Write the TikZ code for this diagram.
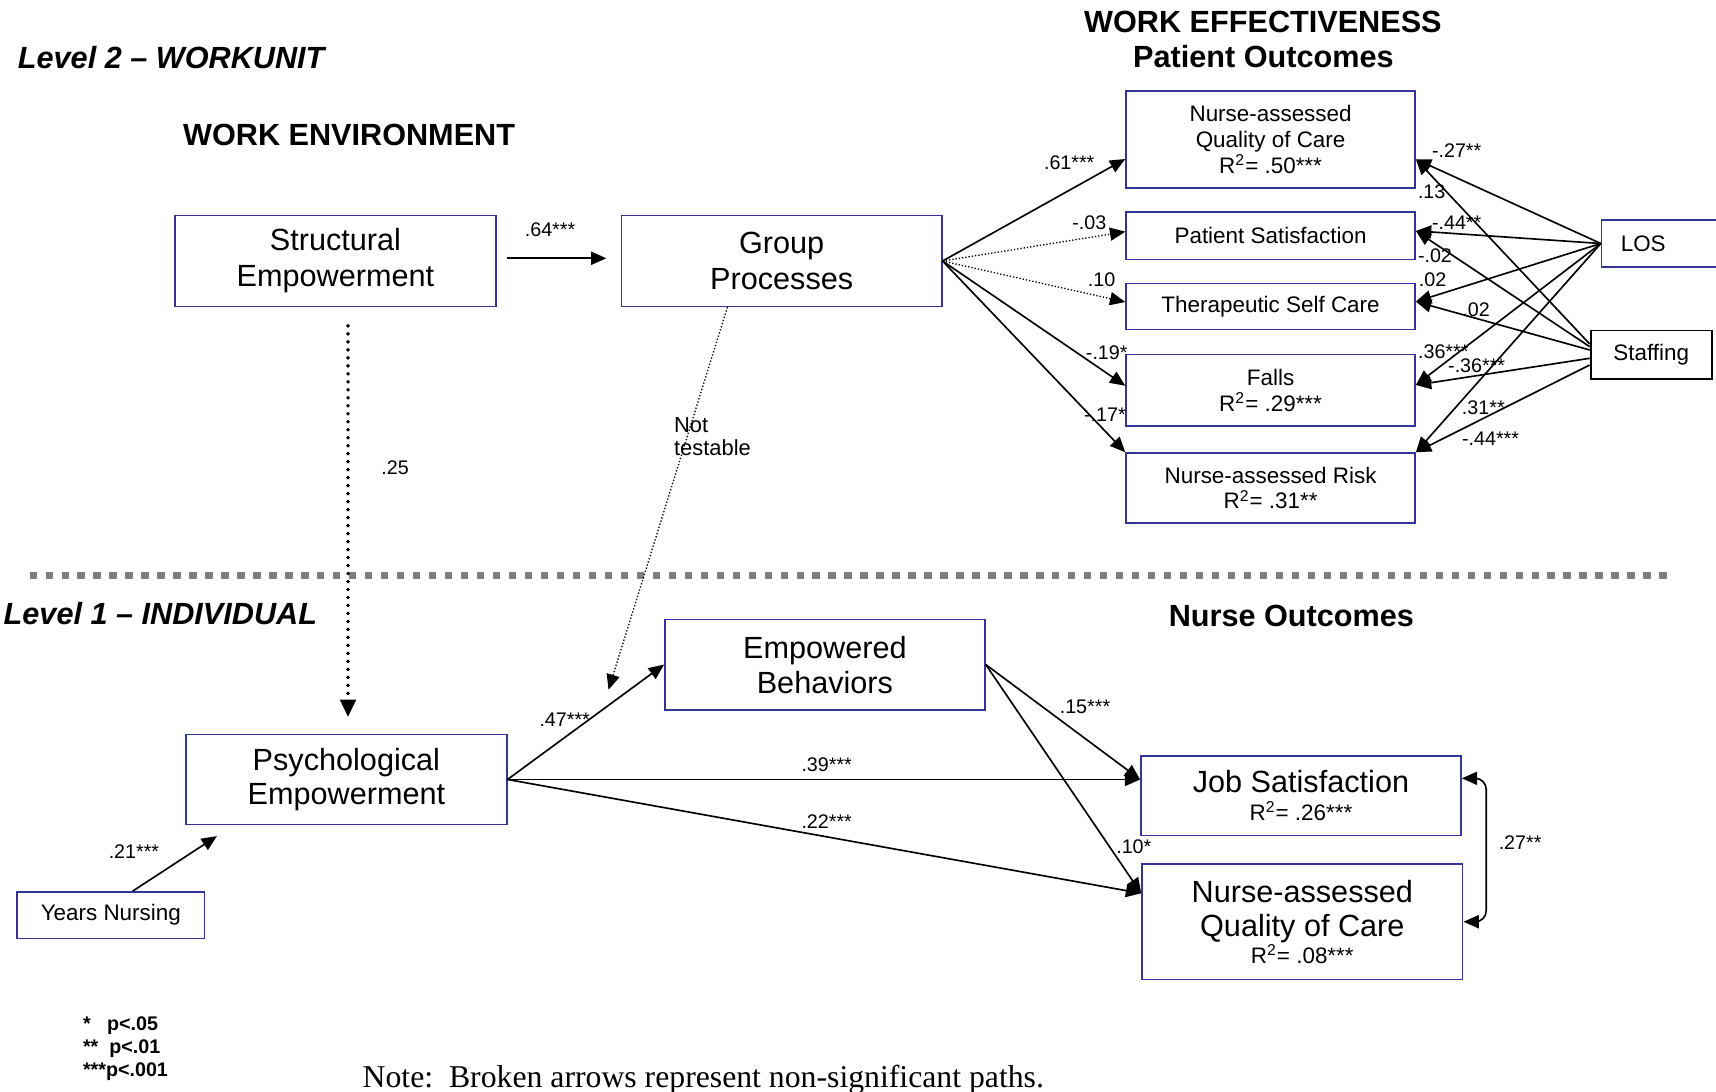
\documentclass[tikz,border=0pt]{standalone}
\usepackage{fontspec}
\setmainfont{Liberation Sans}
\newfontfamily\notefont{Liberation Serif}
\usetikzlibrary{arrows.meta}
\newcommand\szA{\fontsize{14}{16.5}\selectfont}
\newcommand\szB{\fontsize{10.25}{11.75}\selectfont}
\newcommand\szC{\fontsize{9}{10.5}\selectfont}
\newcommand\szN{\fontsize{14.5}{17}\selectfont}
\definecolor{boxblue}{RGB}{51,51,153}
\definecolor{sepgray}{RGB}{128,128,128}
\begin{document}
\begin{tikzpicture}[x=0.5pt,y=-0.5pt,
  box/.style={draw=boxblue,line width=0.75pt,inner sep=0pt,align=center},
  bigbox/.style={box,font=\szA,minimum width=146.5pt,minimum height=41.5pt},
  outbox/.style={box,font=\szB,minimum width=132pt},
  arr/.style={line width=0.75pt,-{Triangle[length=7pt,width=6pt]}},
  dblarr/.style={line width=0.75pt,{Triangle[length=7pt,width=6pt]}-{Triangle[length=7pt,width=6pt]}},
  dotarr/.style={line width=0.6pt,dash pattern=on 0.6pt off 0.9pt,-{Triangle[length=7pt,width=6pt]}},
  bigdot/.style={line width=1.8pt,line cap=round,dash pattern=on 0pt off 3.65pt,-{Triangle[length=8pt,width=7pt]}},
  sepline/.style={draw=sepgray,line width=3.3pt,dash pattern=on 3.35pt off 3.95pt},
  coef/.style={font=\szC,inner sep=0pt},
  title/.style={font=\szA\bfseries,inner sep=0pt},
  leveltitle/.style={font=\szA\bfseries\itshape,inner sep=0pt,anchor=west},
]
\useasboundingbox (0,0) rectangle (1568,997);

% titles
\node[leveltitle] (lvl2) at (16,53) {Level 2 – WORKUNIT};
\node[title] (wenv) at (319,123.5) {WORK ENVIRONMENT};
\node[title] (weff) at (1154,20) {WORK EFFECTIVENESS};
\node[title] (pout) at (1154.5,52) {Patient Outcomes};
\node[leveltitle] (lvl1) at (3,561) {Level 1 – INDIVIDUAL};
\node[title] (nout) at (1180,563) {Nurse Outcomes};

% separator
\draw[sepline] (27,526) -- (1527,526);

% level 2 boxes
\node[bigbox] (se) at (306.5,238.5) {Structural\\Empowerment};
\node[bigbox,minimum width=146.25pt] (gp) at (714.25,238.5) {Group\\Processes};
\node[outbox,minimum height=44.5pt] (nqc1) at (1161,127.5) {Nurse-assessed\\Quality of Care\\R\textsuperscript{2}= .50***};
\node[outbox,minimum height=21.5pt] (ps) at (1161,215.5) {Patient Satisfaction};
\node[outbox,minimum height=21pt] (tsc) at (1161,280) {Therapeutic Self Care};
\node[outbox,minimum height=32.5pt] (falls) at (1161,356.5) {Falls\\R\textsuperscript{2}= .29***};
\node[outbox,minimum height=32pt] (nar) at (1161,446) {Nurse-assessed Risk\\R\textsuperscript{2}= .31**};
\node[box,font=\szB,text width=38.25pt,inner xsep=8.75pt,align=left,minimum height=21.5pt] (los) at (1519.25,222.5) {LOS};
\node[box,draw=black,line width=0.9pt,font=\szB,minimum width=55.25pt,minimum height=22pt] (staff) at (1508.75,324) {Staffing};

% level 1 boxes
\node[bigbox,minimum width=146.25pt,minimum height=41.25pt] (eb) at (753.75,607.25) {Empowered\\[-0.5pt]Behaviors};
\node[bigbox,minimum height=41.25pt] (pe) at (316.5,712.25) {Psychological\\[-1pt]Empowerment};
\node[box,font=\szB,minimum width=85.75pt,minimum height=21.25pt] (yn) at (101.25,836.25) {Years Nursing};
\node[box,font=\szB,minimum width=146.25pt,minimum height=36.5pt] (js) at (1188.75,727) {{\szA Job Satisfaction}\\[1pt]R\textsuperscript{2}= .26***};
\node[box,font=\szA,minimum width=146.5pt,minimum height=52.75pt] (nqc2) at (1190,842.25) {Nurse-assessed\\[-1pt]Quality of Care\\[-4.3pt]{\szB R\textsuperscript{2}= .08***}};

% level 2 arrows
\draw[arr] ([xshift=4.6pt,yshift=1.25pt]se.east) -- ([xshift=-6.6pt,yshift=1.25pt]gp.west);
\draw[arr] (gp.east) -- ([yshift=-8.9pt]nqc1.west);
\draw[dotarr] (gp.east) -- ([yshift=1.9pt]ps.west);
\draw[dotarr] (gp.east) -- ([yshift=2pt]tsc.west);
\draw[arr] (gp.east) -- ([yshift=2pt]falls.west);
\draw[arr] (gp.east) -- (nar.north west);

\draw[arr] (los.west) -- ([yshift=-9pt]nqc1.east);
\draw[arr] (los.west) -- ([yshift=2.25pt]ps.east);
\draw[arr] (los.west) -- ([yshift=2.2pt]tsc.east);
\draw[arr] (los.west) -- ([yshift=2.35pt]falls.east);
\draw[arr] (los.west) -- (nar.north east);
\draw[arr] ([yshift=4.85pt]staff.west) -- ([yshift=-9pt]nqc1.east);
\draw[arr] ([yshift=3.6pt]staff.west) -- ([yshift=2.25pt]ps.east);
\draw[arr] ([yshift=2.1pt]staff.west) -- ([yshift=2.2pt]tsc.east);
\draw[arr] ([yshift=-1.7pt]staff.west) -- ([yshift=2.35pt]falls.east);
\draw[arr] ([yshift=-4.75pt]staff.west) -- (nar.north east);

% cross-level
\draw[bigdot] ([xshift=5.75pt,yshift=-8.5pt]se.south) -- ([xshift=0.75pt,yshift=7.5pt]pe.north);
\draw[dotarr] ([xshift=-24.8pt]gp.south) -- ([xshift=-25.35pt,yshift=-11.5pt]eb.west);

% level 1 arrows
\draw[arr] ([xshift=10pt]yn.north) -- ([xshift=14.5pt,yshift=-4.85pt]pe.south west);
\draw[arr] (pe.east) -- (eb.west);
\draw[arr] (pe.east) -- (pe.east -| js.west);
\draw[arr] (pe.east) -- ([yshift=13pt]nqc2.west);
\draw[arr] (eb.east) -- ([yshift=7.4pt]js.west);
\draw[arr] (eb.east) -- ([yshift=13pt]nqc2.west);
\coordinate (cvmid) at (1358,776);
\draw[dblarr,rounded corners=5pt] ([yshift=7.9pt]js.east) -| (cvmid) |- (nqc2.east);

% coefficients
\node[coef] (c64) at (502.6,210.2) {.64***};
\node[coef] (c25) at (361,427) {.25};
\node[font=\fontsize{10}{10.65}\selectfont,align=left,anchor=west,inner sep=0pt] (nt) at (615.6,399) {Not\\testable};
\node[coef] (c61) at (977,149) {.61***};
\node[coef] (c03) at (995.3,203.5) {-.03};
\node[coef] (c10) at (1006.6,255.8) {.10};
\node[coef] (c19) at (1011.3,322.3) {-.19*};
\node[coef] (c17) at (1009.7,378.6) {-.17*};
\node[coef] (r27) at (1331,137.7) {-.27**};
\node[coef] (r13) at (1308.2,175.1) {.13};
\node[coef] (r44a) at (1331,203.5) {-.44**};
\node[coef] (r02a) at (1311.2,233.9) {-.02};
\node[coef] (r02b) at (1309.1,255.2) {.02};
\node[coef] (r02c) at (1348.7,282.6) {.02};
\node[coef] (r36a) at (1318.8,321.3) {.36***};
\node[coef] (r36b) at (1349.3,334.4) {-.36***};
\node[coef] (r31) at (1355.4,372.2) {.31**};
\node[coef] (r44b) at (1362,400.5) {-.44***};
\node[coef] (c21) at (122.4,777.8) {.21***};
\node[coef] (c47) at (516,657.2) {.47***};
\node[coef] (c39) at (755.4,699) {.39***};
\node[coef] (c22) at (755.4,750.8) {.22***};
\node[coef] (c15) at (991.4,645.7) {.15***};
\node[coef] (c10b) at (1036,773.6) {.10*};
\node[coef] (c27) at (1389,770) {.27**};

% legend and note
\node[font=\szC\bfseries,align=left,anchor=north west,inner sep=0pt] (legend) at (75.5,929) {*\ \ \ p<.05\\**\ \ p<.01\\***p<.001};
\node[font=\notefont\szN,anchor=base west,inner sep=0pt] (note) at (331,993.5) {Note:\ \ Broken arrows represent non-significant paths.};
\end{tikzpicture}
\end{document}
